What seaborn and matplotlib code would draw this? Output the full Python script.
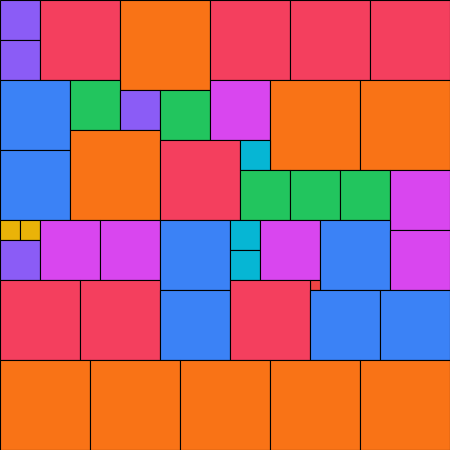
import seaborn as sns
import matplotlib.pyplot as plt
import pandas as pd

# square packing: left/top corner and side length (px units of a 450 canvas)
xs = [0, 0, 40, 120, 210, 290, 370,
      0, 70, 120, 160, 210, 270, 360,
      0, 70, 160, 240, 240, 290, 340, 390,
      0, 20, 0, 40, 100, 160, 230, 230, 260, 320, 390, 310,
      0, 80, 160, 230, 310, 380,
      0, 90, 180, 270, 360]
ys = [0, 40, 0, 0, 0, 0, 0,
      80, 80, 90, 90, 80, 80, 80,
      150, 130, 140, 140, 170, 170, 170, 170,
      220, 220, 240, 220, 220, 220, 220, 250, 220, 220, 230, 280,
      280, 280, 290, 280, 290, 290,
      360, 360, 360, 360, 360]
sizes = [40, 40, 80, 90, 80, 80, 80,
         70, 50, 40, 50, 60, 90, 90,
         70, 90, 80, 30, 50, 50, 50, 60,
         20, 20, 40, 60, 60, 70, 30, 30, 60, 70, 60, 10,
         80, 80, 70, 80, 70, 70,
         90, 90, 90, 90, 90]

size_colors = {10: "#ef4444", 20: "#eab308", 30: "#06b6d4", 40: "#8b5cf6",
               50: "#22c55e", 60: "#d946ef", 70: "#3b82f6", 80: "#f43f5e",
               90: "#f97316"}

df = pd.DataFrame({"x": xs, "y": ys, "size": sizes})

sns.set_style("white")
fig = plt.figure(figsize=(4.5, 4.5), dpi=100)
ax = fig.add_axes([0, 0, 1, 1])

ax.bar(df["x"], df["size"], width=df["size"], bottom=df["y"], align="edge",
       color=[size_colors[s] for s in df["size"]], edgecolor="black", linewidth=0.8)

ax.set_xlim(0, 450)
ax.set_ylim(450, 0)
ax.axis("off")

plt.savefig("out.png", dpi=100)
